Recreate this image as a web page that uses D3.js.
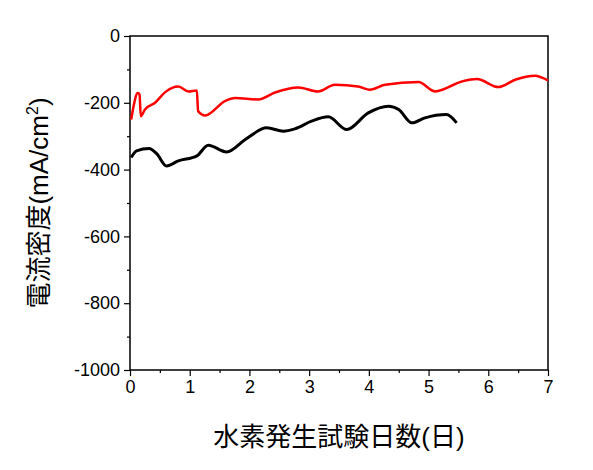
<!DOCTYPE html>
<html><head><meta charset="utf-8">
<script src="https://cdn.jsdelivr.net/npm/d3@7"></script>
<style>body{margin:0;background:#fff}text{font-family:"Liberation Sans","Noto Sans CJK JP",sans-serif}</style>
</head><body>
<script>
// 赤: 日数 / 電流密度
const redDays = [0.02,0.06,0.13,0.16,0.18,0.25,0.42,0.59,0.81,0.98,1.12,1.14,1.26,1.59,1.76,2.15,2.43,2.82,3.15,3.43,3.82,4.02,4.27,4.83,5.11,5.56,5.81,6.17,6.45,6.78,7.0];
const redVals = [-250,-210,-171,-175,-240,-220,-200,-168,-151,-166,-163,-225,-238,-195,-186,-190,-169,-154,-166,-146,-151,-161,-146,-138,-166,-136,-129,-153,-131,-119,-133];
// 黒
const blackDays = [0.02,0.11,0.32,0.45,0.61,0.81,1.12,1.31,1.62,1.93,2.29,2.57,2.76,3.04,3.32,3.63,3.99,4.33,4.5,4.72,4.94,5.3,5.47];
const blackVals = [-364,-344,-337,-353,-389,-374,-359,-327,-347,-310,-275,-285,-278,-255,-242,-280,-230,-210,-220,-260,-245,-235,-260];
const xTicks = [0,1,2,3,4,5,6,7];
const yTicks = [0,-200,-400,-600,-800,-1000];

const W = 593, H = 470;
const m = {left:130, right:45, top:36, bottom:100};
const svg = d3.select("body").append("svg").attr("width", W).attr("height", H);
const x = d3.scaleLinear().domain([0,7]).range([m.left, W - m.right]);
const y = d3.scaleLinear().domain([-1000,0]).range([H - m.bottom, m.top]);

// 枠
svg.append("rect").attr("x", m.left).attr("y", m.top)
  .attr("width", x(7) - x(0)).attr("height", y(-1000) - y(0))
  .attr("fill", "none").attr("stroke", "#000").attr("stroke-width", 1.5);

svg.append("g").attr("transform", `translate(0,${y(-1000)})`)
  .call(d3.axisBottom(x).tickValues(xTicks).tickSize(6).tickPadding(4).tickFormat(d => String(d)));
svg.append("g").attr("transform", `translate(0,${y(-1000)})`)
  .call(d3.axisBottom(x).tickValues(d3.range(0.5,7,1)).tickSize(3).tickFormat(""));
svg.append("g").attr("transform", `translate(${m.left},0)`)
  .call(d3.axisLeft(y).tickValues(yTicks).tickSize(6).tickPadding(4).tickFormat(d => String(d)));
svg.append("g").attr("transform", `translate(${m.left},0)`)
  .call(d3.axisLeft(y).tickValues(d3.range(-900,0,200)).tickSize(3).tickFormat(""));
svg.selectAll(".domain").remove();
svg.selectAll(".tick line").attr("stroke-width", 1.2);
svg.selectAll(".tick text").attr("font-size", 18).attr("fill", "#000");

const line = d3.line().x(d => x(d[0])).y(d => y(d[1])).curve(d3.curveMonotoneX);
svg.append("path").datum(blackDays.map((d,i) => [d, blackVals[i]]))
  .attr("d", line).attr("fill", "none").attr("stroke", "#000").attr("stroke-width", 3);
svg.append("path").datum(redDays.map((d,i) => [d, redVals[i]]))
  .attr("d", line).attr("fill", "none").attr("stroke", "#f00").attr("stroke-width", 2.5);

svg.append("text").attr("x", (x(0)+x(7))/2).attr("y", 446).attr("text-anchor", "middle")
  .attr("font-size", 26).text("水素発生試験日数(日)");
const yl = svg.append("text").attr("transform", `translate(48,${(y(0)+y(-1000))/2}) rotate(-90)`)
  .attr("text-anchor", "middle").attr("font-size", 26);
yl.append("tspan").text("電流密度(mA/cm");
yl.append("tspan").attr("font-size", 16).attr("dy", -10).text("2");
yl.append("tspan").attr("dy", 10).text(")");
</script>
</body></html>
